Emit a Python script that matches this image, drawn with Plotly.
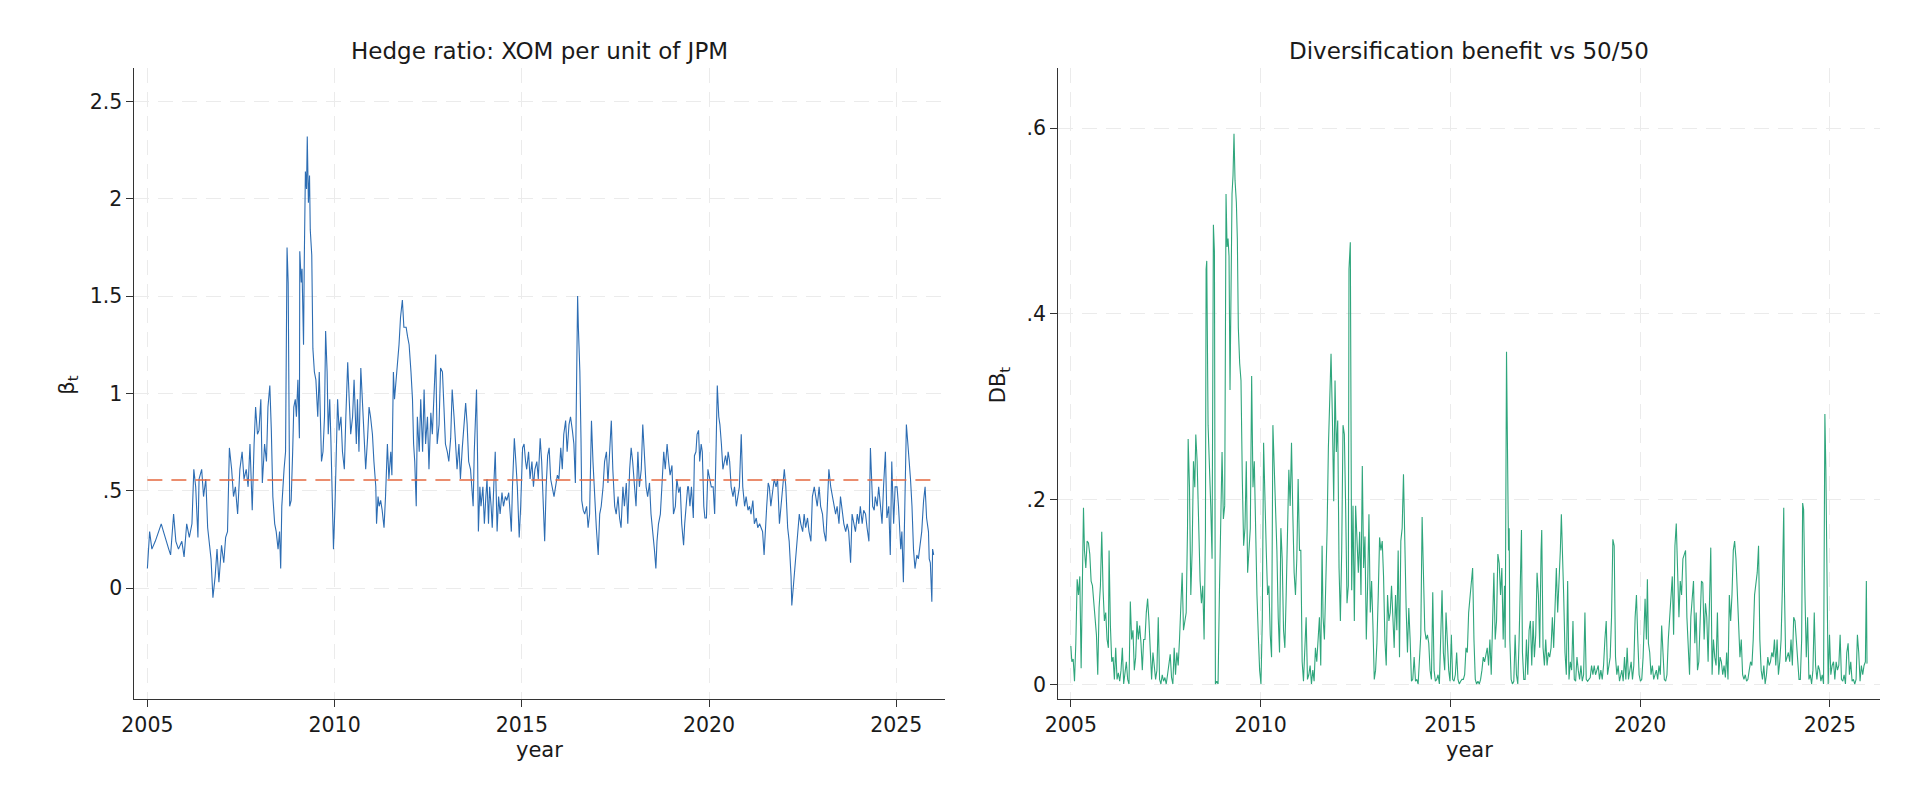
import plotly.graph_objects as go

# Hedge ratio beta_t (XOM per unit of JPM)
beta_year = [
    2005.00, 2005.06, 2005.12, 2005.21, 2005.30, 2005.37, 2005.43, 2005.50, 2005.57, 2005.62,
    2005.70, 2005.76, 2005.83, 2005.92, 2005.98, 2006.05, 2006.12, 2006.19, 2006.24, 2006.29,
    2006.35, 2006.38, 2006.45, 2006.50, 2006.56, 2006.61, 2006.65, 2006.70, 2006.75, 2006.81,
    2006.86, 2006.91, 2006.98, 2007.04, 2007.09, 2007.14, 2007.19, 2007.25, 2007.30, 2007.35,
    2007.41, 2007.47, 2007.53, 2007.58, 2007.64, 2007.69, 2007.74, 2007.80, 2007.85, 2007.89,
    2007.94, 2007.98, 2008.03, 2008.07, 2008.13, 2008.18, 2008.22, 2008.27, 2008.31, 2008.35,
    2008.40, 2008.44, 2008.49, 2008.53, 2008.56, 2008.59, 2008.65, 2008.69, 2008.73, 2008.76,
    2008.80, 2008.84, 2008.88, 2008.91, 2008.95, 2008.98, 2009.02, 2009.06, 2009.07, 2009.11,
    2009.13, 2009.17, 2009.19, 2009.22, 2009.25, 2009.27, 2009.30, 2009.33, 2009.35, 2009.39,
    2009.42, 2009.46, 2009.50, 2009.55, 2009.59, 2009.62, 2009.65, 2009.69, 2009.73, 2009.76,
    2009.80, 2009.83, 2009.87, 2009.90, 2009.94, 2009.97, 2010.01, 2010.04, 2010.08, 2010.12,
    2010.17, 2010.21, 2010.26, 2010.30, 2010.35, 2010.39, 2010.43, 2010.48, 2010.52, 2010.58,
    2010.61, 2010.65, 2010.70, 2010.74, 2010.79, 2010.83, 2010.88, 2010.92, 2010.96, 2011.01,
    2011.05, 2011.10, 2011.12, 2011.16, 2011.19, 2011.23, 2011.27, 2011.32, 2011.36, 2011.41,
    2011.45, 2011.50, 2011.53, 2011.57, 2011.60, 2011.64, 2011.67, 2011.72, 2011.76, 2011.81,
    2011.85, 2011.91, 2011.95, 2011.99, 2012.04, 2012.08, 2012.11, 2012.14, 2012.18, 2012.21,
    2012.26, 2012.30, 2012.35, 2012.39, 2012.43, 2012.48, 2012.52, 2012.57, 2012.61, 2012.65,
    2012.70, 2012.74, 2012.79, 2012.83, 2012.88, 2012.92, 2012.96, 2013.01, 2013.05, 2013.10,
    2013.14, 2013.19, 2013.23, 2013.27, 2013.32, 2013.36, 2013.41, 2013.45, 2013.50, 2013.54,
    2013.58, 2013.63, 2013.67, 2013.70, 2013.73, 2013.79, 2013.82, 2013.84, 2013.88, 2013.91,
    2013.96, 2014.00, 2014.04, 2014.07, 2014.11, 2014.14, 2014.18, 2014.21, 2014.25, 2014.29,
    2014.34, 2014.38, 2014.42, 2014.47, 2014.51, 2014.56, 2014.60, 2014.65, 2014.69, 2014.72,
    2014.75, 2014.80, 2014.84, 2014.88, 2014.93, 2014.97, 2015.02, 2015.06, 2015.10, 2015.13,
    2015.18, 2015.22, 2015.27, 2015.31, 2015.35, 2015.40, 2015.44, 2015.49, 2015.53, 2015.58,
    2015.61, 2015.65, 2015.69, 2015.73, 2015.77, 2015.81, 2015.86, 2015.90, 2015.95, 2015.99,
    2016.04, 2016.08, 2016.12, 2016.17, 2016.21, 2016.26, 2016.30, 2016.35, 2016.39, 2016.43,
    2016.46, 2016.49, 2016.51, 2016.55, 2016.58, 2016.60, 2016.64, 2016.68, 2016.73, 2016.77,
    2016.81, 2016.86, 2016.90, 2016.95, 2016.99, 2017.04, 2017.08, 2017.12, 2017.17, 2017.21,
    2017.26, 2017.30, 2017.35, 2017.39, 2017.43, 2017.48, 2017.52, 2017.57, 2017.61, 2017.65,
    2017.70, 2017.74, 2017.79, 2017.83, 2017.88, 2017.92, 2017.96, 2018.01, 2018.05, 2018.10,
    2018.14, 2018.19, 2018.23, 2018.27, 2018.32, 2018.36, 2018.41, 2018.45, 2018.50, 2018.54,
    2018.58, 2018.61, 2018.65, 2018.70, 2018.74, 2018.79, 2018.83, 2018.88, 2018.92, 2018.96,
    2019.01, 2019.05, 2019.10, 2019.14, 2019.19, 2019.23, 2019.27, 2019.32, 2019.35, 2019.40,
    2019.43, 2019.45, 2019.49, 2019.53, 2019.58, 2019.61, 2019.65, 2019.68, 2019.72, 2019.75,
    2019.79, 2019.82, 2019.86, 2019.89, 2019.93, 2019.97, 2020.02, 2020.06, 2020.11, 2020.15,
    2020.19, 2020.22, 2020.26, 2020.29, 2020.33, 2020.37, 2020.41, 2020.44, 2020.48, 2020.51,
    2020.55, 2020.59, 2020.64, 2020.68, 2020.73, 2020.77, 2020.81, 2020.86, 2020.90, 2020.95,
    2020.99, 2021.04, 2021.08, 2021.12, 2021.17, 2021.21, 2021.26, 2021.30, 2021.35, 2021.39,
    2021.43, 2021.47, 2021.50, 2021.54, 2021.58, 2021.61, 2021.65, 2021.70, 2021.74, 2021.79,
    2021.83, 2021.88, 2021.92, 2021.96, 2022.01, 2022.05, 2022.10, 2022.14, 2022.19, 2022.21,
    2022.25, 2022.28, 2022.32, 2022.36, 2022.41, 2022.45, 2022.50, 2022.54, 2022.58, 2022.63,
    2022.67, 2022.72, 2022.76, 2022.81, 2022.85, 2022.89, 2022.94, 2022.98, 2023.03, 2023.07,
    2023.12, 2023.16, 2023.20, 2023.25, 2023.29, 2023.34, 2023.38, 2023.42, 2023.47, 2023.51,
    2023.56, 2023.60, 2023.65, 2023.69, 2023.73, 2023.78, 2023.82, 2023.87, 2023.91, 2023.96,
    2024.00, 2024.04, 2024.09, 2024.13, 2024.18, 2024.22, 2024.27, 2024.31, 2024.34, 2024.37,
    2024.41, 2024.44, 2024.49, 2024.53, 2024.58, 2024.62, 2024.66, 2024.71, 2024.75, 2024.80,
    2024.84, 2024.88, 2024.93, 2024.97, 2025.02, 2025.06, 2025.12, 2025.15, 2025.19, 2025.24,
    2025.27, 2025.31, 2025.35, 2025.38, 2025.42, 2025.46, 2025.50, 2025.55, 2025.59, 2025.64,
    2025.68, 2025.73, 2025.77, 2025.81, 2025.86, 2025.88, 2025.91, 2025.95, 2025.97, 2026.00,
]
beta_val = [
    0.10, 0.29, 0.20, 0.24, 0.29, 0.33, 0.29, 0.24, 0.20, 0.17,
    0.38, 0.24, 0.20, 0.24, 0.16, 0.33, 0.26, 0.33, 0.61, 0.52,
    0.26, 0.56, 0.61, 0.47, 0.56, 0.31, 0.24, 0.15, -0.05, 0.06,
    0.20, 0.03, 0.22, 0.13, 0.26, 0.29, 0.72, 0.61, 0.47, 0.52,
    0.38, 0.61, 0.70, 0.56, 0.61, 0.52, 0.74, 0.40, 0.74, 0.93,
    0.79, 0.81, 0.97, 0.54, 0.74, 0.65, 0.93, 1.04, 0.81, 0.47,
    0.33, 0.29, 0.20, 0.29, 0.10, 0.42, 0.61, 0.70, 1.75, 1.57,
    0.42, 0.45, 0.70, 0.93, 0.97, 0.88, 1.07, 0.77, 1.73, 1.57,
    1.64, 1.25, 1.68, 2.14, 2.05, 2.32, 1.98, 2.12, 1.84, 1.71,
    1.23, 1.11, 1.07, 0.88, 1.11, 0.79, 0.65, 0.70, 0.88, 1.32,
    1.11, 0.79, 0.97, 0.77, 0.42, 0.20, 0.42, 0.65, 0.97, 0.81,
    0.88, 0.70, 0.61, 0.88, 1.16, 0.97, 0.79, 0.88, 1.07, 0.74,
    0.97, 0.70, 1.13, 0.97, 0.74, 0.61, 0.77, 0.93, 0.88, 0.79,
    0.65, 0.52, 0.33, 0.47, 0.42, 0.45, 0.40, 0.31, 0.47, 0.74,
    0.56, 0.70, 0.58, 1.11, 0.97, 1.07, 1.11, 1.25, 1.39, 1.48,
    1.34, 1.34, 1.29, 1.25, 1.11, 0.97, 0.74, 0.65, 0.42, 0.88,
    0.70, 0.97, 0.70, 1.02, 0.74, 0.88, 0.61, 0.90, 0.79, 0.97,
    1.20, 0.74, 0.84, 1.13, 1.11, 0.93, 0.74, 0.70, 0.65, 0.77,
    1.02, 0.88, 0.70, 0.61, 0.74, 0.56, 0.72, 0.84, 0.95, 0.84,
    0.65, 0.61, 0.52, 0.42, 0.70, 1.02, 0.65, 0.29, 0.52, 0.42,
    0.52, 0.33, 0.47, 0.56, 0.33, 0.52, 0.42, 0.31, 0.52, 0.70,
    0.29, 0.47, 0.38, 0.49, 0.42, 0.47, 0.45, 0.49, 0.38, 0.29,
    0.52, 0.77, 0.65, 0.52, 0.26, 0.42, 0.72, 0.74, 0.65, 0.61,
    0.70, 0.56, 0.65, 0.52, 0.61, 0.65, 0.56, 0.77, 0.65, 0.36,
    0.24, 0.52, 0.68, 0.72, 0.56, 0.52, 0.47, 0.52, 0.58, 0.56,
    0.72, 0.61, 0.79, 0.86, 0.70, 0.84, 0.88, 0.81, 0.74, 0.54,
    1.11, 1.50, 1.34, 1.11, 0.77, 0.45, 0.40, 0.38, 0.42, 0.31,
    0.38, 0.86, 0.65, 0.42, 0.31, 0.17, 0.38, 0.42, 0.52, 0.65,
    0.70, 0.54, 0.70, 0.86, 0.61, 0.42, 0.38, 0.47, 0.36, 0.31,
    0.52, 0.42, 0.54, 0.33, 0.61, 0.72, 0.65, 0.52, 0.42, 0.70,
    0.52, 0.61, 0.84, 0.70, 0.52, 0.47, 0.54, 0.38, 0.29, 0.20,
    0.10, 0.24, 0.33, 0.38, 0.52, 0.70, 0.61, 0.74, 0.65, 0.58,
    0.63, 0.38, 0.42, 0.56, 0.49, 0.52, 0.33, 0.22, 0.33, 0.47,
    0.52, 0.52, 0.42, 0.52, 0.36, 0.68, 0.70, 0.79, 0.81, 0.65,
    0.74, 0.70, 0.42, 0.36, 0.36, 0.61, 0.56, 0.52, 0.52, 0.38,
    0.74, 1.04, 0.88, 0.84, 0.74, 0.61, 0.65, 0.68, 0.63, 0.70,
    0.65, 0.52, 0.47, 0.52, 0.42, 0.47, 0.52, 0.79, 0.52, 0.42,
    0.47, 0.40, 0.42, 0.38, 0.45, 0.33, 0.36, 0.31, 0.33, 0.31,
    0.29, 0.17, 0.31, 0.42, 0.54, 0.52, 0.42, 0.52, 0.56, 0.52,
    0.56, 0.33, 0.42, 0.54, 0.61, 0.52, 0.31, 0.24, 0.06, -0.09,
    0.01, 0.06, 0.20, 0.29, 0.38, 0.33, 0.29, 0.38, 0.31, 0.36,
    0.29, 0.24, 0.47, 0.52, 0.47, 0.42, 0.52, 0.42, 0.38, 0.29,
    0.24, 0.42, 0.61, 0.52, 0.47, 0.42, 0.38, 0.42, 0.33, 0.47,
    0.38, 0.33, 0.29, 0.33, 0.29, 0.13, 0.38, 0.33, 0.29, 0.38,
    0.33, 0.42, 0.33, 0.40, 0.38, 0.31, 0.24, 0.72, 0.56, 0.42,
    0.40, 0.47, 0.42, 0.52, 0.42, 0.33, 0.52, 0.70, 0.36, 0.42,
    0.17, 0.65, 0.33, 0.52, 0.52, 0.42, 0.20, 0.29, 0.03, 0.70,
    0.84, 0.74, 0.65, 0.56, 0.42, 0.20, 0.10, 0.17, 0.15, 0.24,
    0.29, 0.45, 0.52, 0.36, 0.29, 0.15, 0.13, -0.07, 0.20, 0.17,
]
beta_mean = 0.555

# Diversification benefit DB_t vs a 50/50 portfolio
db_year = [
    2005.000, 2005.026, 2005.061, 2005.096, 2005.131, 2005.166, 2005.201, 2005.236, 2005.271, 2005.306,
    2005.333, 2005.359, 2005.394, 2005.429, 2005.464, 2005.499, 2005.534, 2005.569, 2005.604, 2005.639,
    2005.674, 2005.709, 2005.744, 2005.779, 2005.814, 2005.849, 2005.884, 2005.919, 2005.954, 2005.989,
    2006.007, 2006.042, 2006.077, 2006.112, 2006.147, 2006.182, 2006.217, 2006.252, 2006.287, 2006.322,
    2006.357, 2006.392, 2006.427, 2006.462, 2006.497, 2006.532, 2006.567, 2006.602, 2006.637, 2006.672,
    2006.708, 2006.743, 2006.778, 2006.813, 2006.848, 2006.883, 2006.918, 2006.953, 2006.988, 2007.023,
    2007.058, 2007.093, 2007.128, 2007.163, 2007.198, 2007.233, 2007.268, 2007.303, 2007.338, 2007.373,
    2007.408, 2007.443, 2007.478, 2007.513, 2007.548, 2007.583, 2007.618, 2007.653, 2007.688, 2007.723,
    2007.758, 2007.793, 2007.828, 2007.863, 2007.898, 2007.933, 2007.968, 2008.003, 2008.039, 2008.074,
    2008.091, 2008.126, 2008.161, 2008.196, 2008.231, 2008.266, 2008.292, 2008.327, 2008.371, 2008.406,
    2008.441, 2008.476, 2008.511, 2008.546, 2008.564, 2008.581, 2008.616, 2008.651, 2008.686, 2008.721,
    2008.756, 2008.783, 2008.809, 2008.844, 2008.879, 2008.914, 2008.949, 2008.984, 2009.019, 2009.054,
    2009.089, 2009.116, 2009.142, 2009.168, 2009.194, 2009.221, 2009.247, 2009.273, 2009.299, 2009.326,
    2009.361, 2009.387, 2009.413, 2009.448, 2009.483, 2009.518, 2009.553, 2009.588, 2009.623, 2009.658,
    2009.694, 2009.729, 2009.764, 2009.799, 2009.834, 2009.869, 2009.904, 2009.939, 2009.974, 2010.009,
    2010.044, 2010.079, 2010.114, 2010.149, 2010.184, 2010.219, 2010.254, 2010.289, 2010.324, 2010.359,
    2010.394, 2010.429, 2010.464, 2010.499, 2010.534, 2010.569, 2010.604, 2010.639, 2010.674, 2010.709,
    2010.744, 2010.779, 2010.814, 2010.849, 2010.884, 2010.919, 2010.954, 2010.989, 2011.025, 2011.060,
    2011.095, 2011.130, 2011.165, 2011.200, 2011.235, 2011.270, 2011.305, 2011.340, 2011.375, 2011.410,
    2011.445, 2011.480, 2011.515, 2011.550, 2011.585, 2011.620, 2011.646, 2011.681, 2011.716, 2011.751,
    2011.786, 2011.821, 2011.856, 2011.891, 2011.926, 2011.961, 2011.996, 2012.032, 2012.067, 2012.102,
    2012.137, 2012.172, 2012.207, 2012.242, 2012.277, 2012.312, 2012.329, 2012.364, 2012.400, 2012.435,
    2012.470, 2012.504, 2012.540, 2012.575, 2012.610, 2012.645, 2012.680, 2012.715, 2012.750, 2012.785,
    2012.820, 2012.855, 2012.890, 2012.925, 2012.960, 2012.995, 2013.030, 2013.065, 2013.100, 2013.135,
    2013.170, 2013.205, 2013.240, 2013.275, 2013.310, 2013.345, 2013.380, 2013.415, 2013.450, 2013.485,
    2013.520, 2013.555, 2013.590, 2013.625, 2013.660, 2013.695, 2013.730, 2013.765, 2013.800, 2013.835,
    2013.870, 2013.905, 2013.940, 2013.975, 2014.010, 2014.046, 2014.081, 2014.116, 2014.151, 2014.186,
    2014.221, 2014.256, 2014.291, 2014.326, 2014.361, 2014.396, 2014.431, 2014.466, 2014.501, 2014.536,
    2014.571, 2014.606, 2014.641, 2014.676, 2014.711, 2014.746, 2014.781, 2014.816, 2014.851, 2014.886,
    2014.921, 2014.956, 2014.991, 2015.026, 2015.061, 2015.096, 2015.131, 2015.166, 2015.201, 2015.236,
    2015.271, 2015.306, 2015.342, 2015.377, 2015.412, 2015.447, 2015.482, 2015.517, 2015.552, 2015.587,
    2015.622, 2015.657, 2015.692, 2015.727, 2015.762, 2015.797, 2015.832, 2015.867, 2015.902, 2015.937,
    2015.972, 2016.007, 2016.042, 2016.077, 2016.112, 2016.147, 2016.182, 2016.217, 2016.252, 2016.287,
    2016.322, 2016.357, 2016.392, 2016.427, 2016.445, 2016.462, 2016.480, 2016.497, 2016.515, 2016.532,
    2016.550, 2016.567, 2016.602, 2016.637, 2016.672, 2016.707, 2016.742, 2016.777, 2016.812, 2016.847,
    2016.874, 2016.900, 2016.935, 2016.970, 2017.005, 2017.040, 2017.075, 2017.110, 2017.145, 2017.180,
    2017.215, 2017.250, 2017.285, 2017.320, 2017.355, 2017.390, 2017.408, 2017.443, 2017.478, 2017.513,
    2017.548, 2017.583, 2017.618, 2017.653, 2017.688, 2017.723, 2017.758, 2017.793, 2017.828, 2017.863,
    2017.898, 2017.925, 2017.951, 2017.986, 2018.021, 2018.056, 2018.091, 2018.126, 2018.161, 2018.196,
    2018.231, 2018.266, 2018.301, 2018.336, 2018.371, 2018.406, 2018.441, 2018.476, 2018.511, 2018.546,
    2018.581, 2018.616, 2018.651, 2018.686, 2018.721, 2018.756, 2018.791, 2018.826, 2018.861, 2018.896,
    2018.931, 2018.966, 2019.002, 2019.037, 2019.072, 2019.107, 2019.142, 2019.177, 2019.212, 2019.247,
    2019.282, 2019.317, 2019.352, 2019.387, 2019.422, 2019.457, 2019.492, 2019.519, 2019.554, 2019.589,
    2019.624, 2019.659, 2019.694, 2019.729, 2019.764, 2019.799, 2019.834, 2019.869, 2019.904, 2019.939,
    2019.974, 2020.009, 2020.044, 2020.079, 2020.114, 2020.131, 2020.166, 2020.192, 2020.219, 2020.253,
    2020.288, 2020.323, 2020.358, 2020.393, 2020.428, 2020.463, 2020.498, 2020.533, 2020.568, 2020.603,
    2020.638, 2020.673, 2020.708, 2020.743, 2020.778, 2020.813, 2020.848, 2020.883, 2020.918, 2020.953,
    2020.988, 2021.023, 2021.058, 2021.093, 2021.128, 2021.163, 2021.198, 2021.233, 2021.268, 2021.303,
    2021.337, 2021.372, 2021.407, 2021.442, 2021.477, 2021.512, 2021.547, 2021.582, 2021.617, 2021.652,
    2021.687, 2021.722, 2021.757, 2021.792, 2021.827, 2021.862, 2021.897, 2021.932, 2021.967, 2022.002,
    2022.037, 2022.072, 2022.107, 2022.142, 2022.177, 2022.212, 2022.247, 2022.281, 2022.316, 2022.351,
    2022.386, 2022.421, 2022.456, 2022.491, 2022.526, 2022.561, 2022.596, 2022.631, 2022.666, 2022.701,
    2022.736, 2022.771, 2022.806, 2022.841, 2022.876, 2022.911, 2022.946, 2022.981, 2023.016, 2023.051,
    2023.086, 2023.121, 2023.155, 2023.190, 2023.225, 2023.260, 2023.295, 2023.330, 2023.365, 2023.400,
    2023.435, 2023.470, 2023.505, 2023.540, 2023.575, 2023.610, 2023.645, 2023.680, 2023.715, 2023.750,
    2023.767, 2023.785, 2023.802, 2023.837, 2023.872, 2023.907, 2023.942, 2023.977, 2024.012, 2024.047,
    2024.082, 2024.117, 2024.152, 2024.187, 2024.222, 2024.257, 2024.283, 2024.309, 2024.344, 2024.379,
    2024.414, 2024.449, 2024.484, 2024.519, 2024.554, 2024.589, 2024.624, 2024.659, 2024.694, 2024.729,
    2024.764, 2024.799, 2024.834, 2024.851, 2024.869, 2024.895, 2024.921, 2024.956, 2024.991, 2025.026,
    2025.061, 2025.096, 2025.131, 2025.166, 2025.201, 2025.236, 2025.271, 2025.306, 2025.341, 2025.376,
    2025.411, 2025.446, 2025.481, 2025.516, 2025.551, 2025.586, 2025.621, 2025.656, 2025.691, 2025.726,
    2025.761, 2025.796, 2025.831, 2025.866, 2025.901, 2025.936, 2025.962, 2025.979,
]
db_val = [
    0.042, 0.025, 0.028, 0.004, 0.045, 0.114, 0.097, 0.117, 0.018, 0.157,
    0.191, 0.145, 0.126, 0.155, 0.153, 0.141, 0.112, 0.107, 0.088, 0.069,
    0.054, 0.011, 0.083, 0.107, 0.165, 0.102, 0.069, 0.078, 0.049, 0.040,
    0.145, 0.064, 0.025, 0.030, 0.006, 0.040, 0.006, 0.013, 0.004, 0.016,
    0.040, 0.001, 0.011, 0.025, 0.006, 0.001, 0.090, 0.049, 0.059, 0.016,
    0.030, 0.069, 0.049, 0.064, 0.045, 0.016, 0.049, 0.049, 0.078, 0.093,
    0.069, 0.030, 0.006, 0.035, 0.016, 0.006, 0.016, 0.073, 0.006, 0.001,
    0.011, 0.004, 0.008, 0.001, 0.011, 0.021, 0.033, 0.008, 0.001, 0.040,
    0.011, 0.035, 0.021, 0.049, 0.078, 0.121, 0.059, 0.069, 0.078, 0.169,
    0.265, 0.213, 0.097, 0.145, 0.241, 0.213, 0.270, 0.241, 0.165, 0.112,
    0.088, 0.107, 0.049, 0.165, 0.448, 0.457, 0.280, 0.241, 0.193, 0.136,
    0.496, 0.467, 0.001, 0.004, 0.001, 0.097, 0.188, 0.251, 0.179, 0.193,
    0.529, 0.472, 0.481, 0.462, 0.318, 0.457, 0.529, 0.549, 0.594, 0.544,
    0.520, 0.481, 0.385, 0.347, 0.328, 0.222, 0.150, 0.169, 0.241, 0.121,
    0.145, 0.169, 0.333, 0.213, 0.241, 0.145, 0.097, 0.054, 0.016, 0.001,
    0.069, 0.261, 0.193, 0.145, 0.097, 0.107, 0.054, 0.030, 0.280, 0.241,
    0.193, 0.145, 0.073, 0.035, 0.169, 0.136, 0.059, 0.040, 0.097, 0.169,
    0.232, 0.193, 0.261, 0.184, 0.121, 0.097, 0.136, 0.222, 0.145, 0.145,
    0.025, 0.004, 0.040, 0.073, 0.006, 0.011, 0.021, 0.001, 0.016, 0.004,
    0.040, 0.025, 0.049, 0.073, 0.021, 0.150, 0.073, 0.049, 0.107, 0.165,
    0.256, 0.299, 0.357, 0.289, 0.198, 0.328, 0.251, 0.285, 0.126, 0.069,
    0.145, 0.280, 0.270, 0.189, 0.088, 0.107, 0.448, 0.477, 0.102, 0.193,
    0.069, 0.193, 0.145, 0.121, 0.165, 0.097, 0.236, 0.126, 0.160, 0.049,
    0.107, 0.184, 0.078, 0.112, 0.064, 0.006, 0.016, 0.045, 0.097, 0.159,
    0.145, 0.155, 0.117, 0.049, 0.021, 0.097, 0.069, 0.078, 0.107, 0.064,
    0.040, 0.097, 0.059, 0.145, 0.030, 0.155, 0.169, 0.227, 0.145, 0.083,
    0.035, 0.083, 0.049, 0.004, 0.006, 0.030, 0.004, 0.006, 0.001, 0.025,
    0.054, 0.181, 0.097, 0.059, 0.049, 0.054, 0.045, 0.016, 0.006, 0.100,
    0.016, 0.004, 0.006, 0.011, 0.001, 0.049, 0.102, 0.035, 0.016, 0.078,
    0.049, 0.016, 0.004, 0.054, 0.006, 0.004, 0.011, 0.035, 0.006, 0.001,
    0.004, 0.006, 0.006, 0.011, 0.040, 0.035, 0.078, 0.097, 0.117, 0.126,
    0.049, 0.006, 0.001, 0.004, 0.001, 0.006, 0.016, 0.030, 0.025, 0.035,
    0.040, 0.021, 0.049, 0.011, 0.088, 0.121, 0.049, 0.069, 0.141, 0.131,
    0.097, 0.126, 0.049, 0.107, 0.040, 0.184, 0.359, 0.289, 0.222, 0.145,
    0.169, 0.049, 0.006, 0.001, 0.004, 0.054, 0.011, 0.001, 0.049, 0.145,
    0.167, 0.035, 0.006, 0.006, 0.049, 0.011, 0.059, 0.069, 0.021, 0.069,
    0.030, 0.054, 0.121, 0.097, 0.040, 0.145, 0.167, 0.040, 0.021, 0.049,
    0.021, 0.035, 0.030, 0.040, 0.073, 0.040, 0.097, 0.126, 0.078, 0.107,
    0.145, 0.184, 0.155, 0.097, 0.035, 0.011, 0.112, 0.006, 0.025, 0.016,
    0.069, 0.006, 0.004, 0.030, 0.016, 0.006, 0.021, 0.004, 0.011, 0.078,
    0.006, 0.004, 0.006, 0.008, 0.021, 0.011, 0.021, 0.011, 0.016, 0.021,
    0.006, 0.016, 0.006, 0.021, 0.049, 0.069, 0.011, 0.021, 0.030, 0.073,
    0.157, 0.150, 0.030, 0.011, 0.021, 0.004, 0.011, 0.016, 0.004, 0.030,
    0.006, 0.040, 0.006, 0.016, 0.025, 0.006, 0.021, 0.073, 0.097, 0.049,
    0.011, 0.004, 0.006, 0.030, 0.078, 0.093, 0.049, 0.114, 0.045, 0.035,
    0.011, 0.021, 0.006, 0.011, 0.016, 0.006, 0.021, 0.011, 0.064, 0.035,
    0.006, 0.004, 0.011, 0.049, 0.073, 0.097, 0.117, 0.054, 0.150, 0.174,
    0.107, 0.073, 0.112, 0.097, 0.136, 0.141, 0.145, 0.073, 0.035, 0.011,
    0.073, 0.093, 0.112, 0.045, 0.078, 0.016, 0.025, 0.069, 0.112, 0.110,
    0.049, 0.088, 0.073, 0.025, 0.073, 0.148, 0.011, 0.049, 0.030, 0.021,
    0.078, 0.011, 0.030, 0.025, 0.011, 0.021, 0.008, 0.035, 0.006, 0.097,
    0.069, 0.097, 0.145, 0.155, 0.136, 0.097, 0.059, 0.030, 0.049, 0.011,
    0.006, 0.011, 0.004, 0.006, 0.016, 0.025, 0.021, 0.049, 0.097, 0.107,
    0.121, 0.150, 0.049, 0.016, 0.006, 0.021, 0.001, 0.011, 0.030, 0.021,
    0.025, 0.035, 0.030, 0.049, 0.021, 0.049, 0.011, 0.025, 0.049, 0.107,
    0.136, 0.191, 0.107, 0.025, 0.030, 0.035, 0.025, 0.049, 0.021, 0.073,
    0.069, 0.049, 0.021, 0.006, 0.006, 0.049, 0.196, 0.189, 0.097, 0.030,
    0.073, 0.006, 0.011, 0.001, 0.016, 0.078, 0.021, 0.006, 0.021, 0.016,
    0.004, 0.011, 0.001, 0.289, 0.292, 0.232, 0.112, 0.001, 0.054, 0.011,
    0.021, 0.025, 0.006, 0.025, 0.016, 0.021, 0.054, 0.006, 0.004, 0.011,
    0.001, 0.035, 0.045, 0.011, 0.025, 0.004, 0.006, 0.001, 0.006, 0.054,
    0.035, 0.004, 0.021, 0.011, 0.021, 0.025, 0.112, 0.023,
]

year_ticks = [2005, 2010, 2015, 2020, 2025]
beta_ticks = [0, 0.5, 1, 1.5, 2, 2.5]
beta_ticktext = ["0", ".5", "1", "1.5", "2", "2.5"]
db_ticks = [0, 0.2, 0.4, 0.6]
db_ticktext = ["0", ".2", ".4", ".6"]

blue = "#2d6db3"
green = "#2fa67c"
red = "#e5683f"
tick_font = dict(family="DejaVu Sans", size=20.5, color="#1a1a1a")
title_font = dict(family="DejaVu Sans", size=23, color="#1a1a1a")
label_font = dict(family="DejaVu Sans", size=21, color="#1a1a1a")

fig = go.Figure()
fig.add_trace(go.Scatter(x=beta_year, y=beta_val, mode="lines",
                         line=dict(color=blue, width=1.1), xaxis="x", yaxis="y"))
fig.add_trace(go.Scatter(x=[beta_year[0], beta_year[-1]], y=[beta_mean, beta_mean], mode="lines",
                         line=dict(color=red, width=1.3, dash="15px,9px"), xaxis="x", yaxis="y"))
fig.add_trace(go.Scatter(x=db_year, y=db_val, mode="lines",
                         line=dict(color=green, width=1.1), xaxis="x2", yaxis="y2"))

axis_style = dict(
    showline=True, linecolor="#333333", linewidth=1.2, mirror=False,
    ticks="outside", ticklen=7, tickwidth=1.2, tickcolor="#333333",
    showgrid=True, gridcolor="#ebebeb", griddash="15px,9px", gridwidth=1.2,
    zeroline=False, tickfont=tick_font,
)

# the page body adds an 8px offset, so positions are shifted back by 8px
fig.update_layout(
    width=1920, height=806,
    paper_bgcolor="white", plot_bgcolor="white",
    showlegend=False,
    font=tick_font,
    margin=dict(l=0, r=0, t=0, b=0),
    xaxis=dict(domain=[0.0595, 0.4845], range=[2004.655, 2026.30],
               tickvals=year_ticks, anchor="y", **axis_style),
    yaxis=dict(domain=[0.1427, 0.9256], range=[-0.570, 2.672],
               tickvals=beta_ticks, ticktext=beta_ticktext, anchor="x", **axis_style),
    xaxis2=dict(domain=[0.5439, 0.9750], range=[2004.667, 2026.33],
                tickvals=year_ticks, anchor="y2", **axis_style),
    yaxis2=dict(domain=[0.1427, 0.9256], range=[-0.0151, 0.6649],
                tickvals=db_ticks, ticktext=db_ticktext, anchor="x2", **axis_style),
    annotations=[
        dict(text="Hedge ratio: XOM per unit of JPM", x=0.2720, y=0.9467, xref="paper", yref="paper",
             showarrow=False, font=title_font, xanchor="center", yanchor="middle"),
        dict(text="Diversification benefit vs 50/50", x=0.7595, y=0.9467, xref="paper", yref="paper",
             showarrow=False, font=title_font, xanchor="center", yanchor="middle"),
        dict(text="year", x=0.2720, y=0.0794, xref="paper", yref="paper",
             showarrow=False, font=label_font, xanchor="center", yanchor="middle"),
        dict(text="year", x=0.7595, y=0.0794, xref="paper", yref="paper",
             showarrow=False, font=label_font, xanchor="center", yanchor="middle"),
        dict(text="β<sub>t</sub>", x=0.0245, y=0.5323, xref="paper", yref="paper", textangle=-90,
             showarrow=False, font=label_font, xanchor="center", yanchor="middle"),
        dict(text="DB<sub>t</sub>", x=0.5130, y=0.5323, xref="paper", yref="paper", textangle=-90,
             showarrow=False, font=label_font, xanchor="center", yanchor="middle"),
    ],
)

fig.write_html("out.html")
